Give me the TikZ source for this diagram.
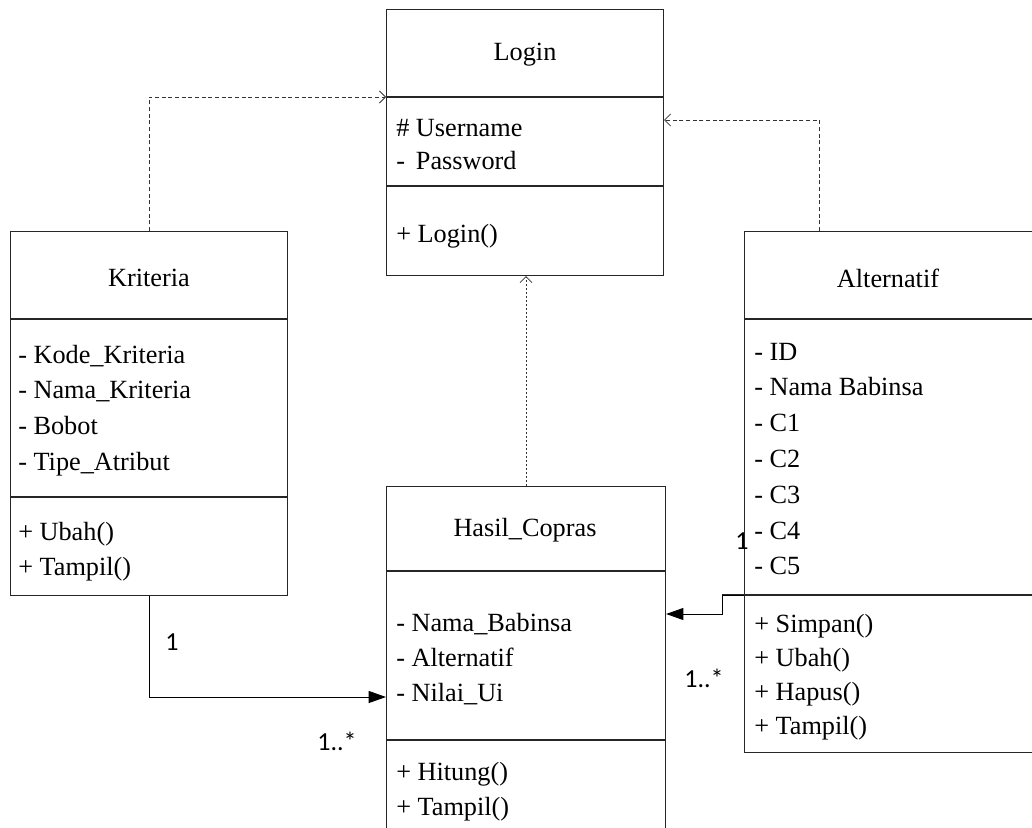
\documentclass[tikz,border=0pt]{standalone}
\usepackage{fontspec}
\setmainfont{Liberation Serif}
\newfontfamily\multfont{Carlito}
\usetikzlibrary{arrows.meta,calc}

\tikzset{
  umlbox/.style={draw=black!85, line width=0.8pt, rectangle, inner sep=0pt, anchor=north west},
  divider/.style={draw=black!85, line width=0.8pt},
  classname/.style={font=\fontsize{19.7}{24}\selectfont, inner sep=0pt},
  member/.style={font=\fontsize{19.7}{24}\selectfont, inner sep=0pt, anchor=base west},
  mult/.style={font=\multfont\fontsize{19.5}{22}\selectfont, inner sep=0pt},
  depends/.style={draw=black!80, line width=0.6pt, dash pattern=on 3pt off 2pt,
    -{Straight Barb[length=4.5pt,width=9pt]}},
  uses/.style={draw=black!80, line width=0.6pt, dash pattern=on 1.5pt off 1.5pt,
    -{Straight Barb[length=4.5pt,width=9pt]}},
  assoc/.style={draw=black, line width=0.75pt, -{Triangle[length=13pt,width=9pt]}},
}

\begin{document}
\begin{tikzpicture}[x=0.75pt,y=-0.75pt]
\useasboundingbox (0,0) rectangle (1032,828);
\clip (0,0) rectangle (1032,828);

% ---------- class boxes ----------
\node[umlbox, minimum width=207.75pt, minimum height=199.5pt] (login) at (386,9) {};
\node[umlbox, minimum width=207.75pt, minimum height=273pt] (kriteria) at (10,231) {};
\node[umlbox, minimum width=225pt, minimum height=390.75pt] (alternatif) at (744,231) {};
\node[umlbox, minimum width=209.25pt, minimum height=300pt] (hasil) at (386,486) {};

% compartment dividers
\draw[divider] (386,97) -- (663,97);
\draw[divider] (386,186) -- (663,186);
\draw[divider] (10,319) -- (287,319);
\draw[divider] (10,497) -- (287,497);
\draw[divider] (744,319) -- (1040,319);
\draw[divider] (722,595) -- (1040,595);
\draw[divider] (386,571) -- (665,571);
\draw[divider] (386,740) -- (665,740);

% ---------- class names ----------
\node[classname] (login-t) at (525,55) {Login};
\node[classname] (kriteria-t) at (149,278) {Kriteria};
\node[classname] (alternatif-t) at (888,278) {Alternatif};
\node[classname] (hasil-t) at (525,530) {Hasil\_Copras};

% ---------- members ----------
\node[member] (login-a1) at (396,136) {\# Username};
\node[member] (login-a2) at (396,169) {-~\,Password};
\node[member] (login-m1) at (396,242) {+ Login()};

\foreach \t [count=\i from 0] in {- Kode\_Kriteria, - Nama\_Kriteria, - Bobot, - Tipe\_Atribut}
  \node[member] (kriteria-a\i) at (18,{363+35.7*\i}) {\t};
\foreach \t [count=\i from 0] in {+ Ubah(), + Tampil()}
  \node[member] (kriteria-m\i) at (18,{540+35*\i}) {\t};

\foreach \t [count=\i from 0] in {- ID, - Nama Babinsa, - C1, - C2, - C3, - C4, - C5}
  \node[member] (alternatif-a\i) at (754,{360+35.8*\i}) {\t};
\foreach \t [count=\i from 0] in {+ Simpan(), + Ubah(), + Hapus(), + Tampil()}
  \node[member] (alternatif-m\i) at (754,{632+34.3*\i}) {\t};

\foreach \t [count=\i from 0] in {- Nama\_Babinsa, - Alternatif, - Nilai\_Ui}
  \node[member] (hasil-a\i) at (396,{631+35*\i}) {\t};
\foreach \t [count=\i from 0] in {+ Hitung(), + Tampil()}
  \node[member] (hasil-m\i) at (396,{780+35*\i}) {\t};

% ---------- dependencies ----------
\draw[depends] (kriteria.north) |- ($(login.north west)+(0,88)$);
\draw[depends] ($(alternatif.north west)+(75,0)$) |- ($(login.north east)+(0,111)$);
\draw[uses] (hasil.north) -- (hasil.north |- login.south);

% ---------- associations ----------
\draw[assoc] (kriteria.south) |- ($(hasil.north west)+(0,211)$);
\draw[assoc] ($(alternatif.north west)+(0,364)$) -- ++(-22,0) |- ($(hasil.north east)+(0,128)$);

% multiplicities
\node[mult] (m1) at (172,642) {1};
\node[mult] (m2) at (337,741) {1..*};
\node[mult] (m3) at (742,541) {1};
\node[mult] (m4) at (704,678) {1..*};
\end{tikzpicture}
\end{document}
